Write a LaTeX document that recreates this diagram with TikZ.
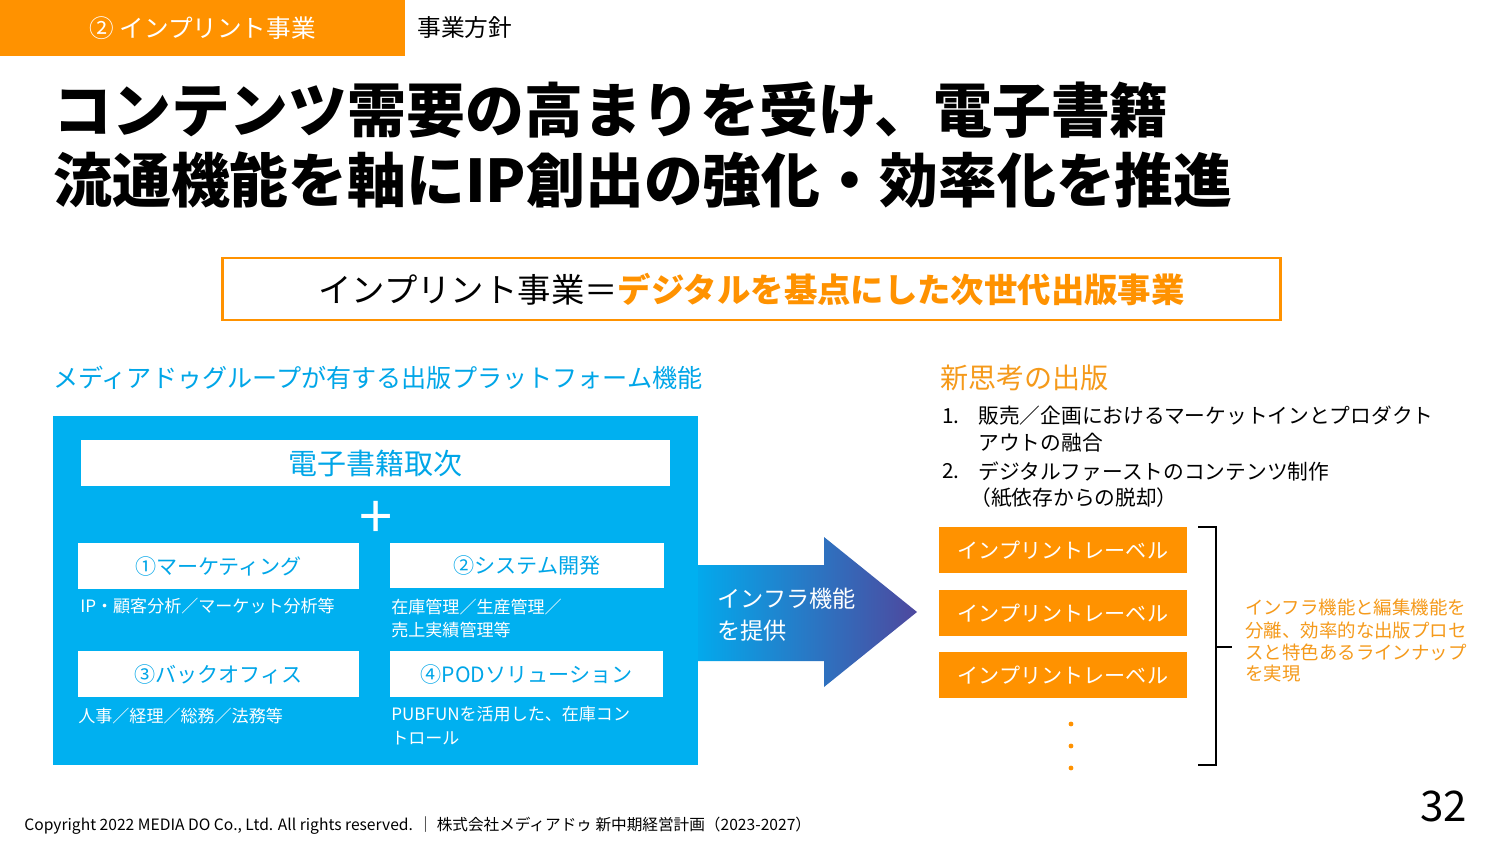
\documentclass[tikz,border=0pt]{standalone}
\usepackage{fontspec}
\setmainfont{Noto Sans CJK JP}
\definecolor{org}{HTML}{FF9200}
\definecolor{orgtxt}{HTML}{F59A1B}
\definecolor{cya}{HTML}{00B0F0}
\definecolor{cyatxt}{HTML}{00A6E8}
\definecolor{arrL}{HTML}{03A9EC}
\definecolor{arrR}{HTML}{4E489E}
\newcommand{\myfs}[1]{\fontsize{#1}{#1}\selectfont}
\begin{document}
\begin{tikzpicture}[x=0.02cm,y=-0.02cm,
  lt/.style={inner sep=0pt, anchor=west},
  ct/.style={inner sep=0pt, anchor=center},
  wbox/.style={fill=white, draw=none, inner sep=0pt, text=cyatxt, font=\myfs{12pt}},
  obox/.style={fill=org, draw=none, inner sep=0pt, text=white, font=\myfs{12pt}, minimum width=4.96cm, minimum height=0.92cm},
  wsmall/.style={lt, text=white, font=\myfs{9.7pt}},
  olist/.style={lt, text=black, font=\myfs{11.8pt}},
  otext/.style={lt, text=orgtxt, font=\myfs{10.5pt}}
]
\useasboundingbox (0,0) rectangle (1500,844);
\fill[white] (0,0) rectangle (1500,844);

% header
\node[fill=org, inner sep=0pt, minimum width=8.1cm, minimum height=1.12cm, text=white, font=\myfs{14pt}] (hdr) at (202.5,28) {② インプリント事業};
\node[lt, font=\myfs{13.5pt}] (sub) at (417,28) {事業方針};

% title
\node[lt, font=\myfs{33.5pt}\bfseries] (t1) at (53,110) {コンテンツ需要の高まりを受け、電子書籍};
\node[lt, font=\myfs{33.5pt}\bfseries] (t2) at (53,180) {流通機能を軸にIP創出の強化・効率化を推進};

% framed statement
\node[draw=org, line width=1.7pt, inner sep=0pt, minimum width=21.18cm, minimum height=1.24cm, font=\myfs{19pt}] (stmt) at (751.5,289)
  {インプリント事業＝{\bfseries\color{org}デジタルを基点にした次世代出版事業}};

% left heading
\node[lt, text=cyatxt, font=\myfs{14.3pt}] (lh) at (53,378) {メディアドゥグループが有する出版プラットフォーム機能};

% big cyan panel
\node[fill=cya, inner sep=0pt, minimum width=12.9cm, minimum height=6.98cm] (panel) at (375.5,590.5) {};

\node[wbox, minimum width=11.78cm, minimum height=0.92cm, font=\myfs{16.5pt}] (dist) at (375.5,463) {電子書籍取次};
\node[ct, text=white, font=\myfs{34pt}] (plus) at (376,520) {+};

\node[wbox, minimum width=5.62cm, minimum height=0.92cm] (b1) at (218.5,566) {①マーケティング};
\node[wbox, minimum width=5.48cm, minimum height=0.9cm] (b2) at (527,565.5) {②システム開発};
\node[wbox, minimum width=5.62cm, minimum height=0.92cm] (b3) at (218.5,674) {③バックオフィス};
\node[wbox, minimum width=5.46cm, minimum height=0.92cm] (b4) at (526.5,674) {④PODソリューション};

\node[wsmall] (d1) at (80,606) {IP・顧客分析／マーケット分析等};
\node[wsmall] (d2a) at (391,607) {在庫管理／生産管理／};
\node[wsmall] (d2b) at (391,630) {売上実績管理等};
\node[wsmall] (d3) at (78,716) {人事／経理／総務／法務等};
\node[wsmall] (d4a) at (391,714) {PUBFUNを活用した、在庫コン};
\node[wsmall] (d4b) at (391,738) {トロール};

% arrow
\shade[left color=arrL, right color=arrR] (698,565) -- (824,565) -- (824,537) -- (917,612) -- (824,687) -- (824,661) -- (698,661) -- cycle;
\node[lt, text=white, font=\myfs{13.2pt}] (ar1) at (717,599) {インフラ機能};
\node[lt, text=white, font=\myfs{13.2pt}] (ar2) at (717,631) {を提供};

% right heading and list
\node[lt, text=orgtxt, font=\myfs{16pt}] (rh) at (940,378) {新思考の出版};
\node[olist] (n1) at (942,416) {1.};
\node[olist] (l1a) at (978,416) {販売／企画におけるマーケットインとプロダクト};
\node[olist] (l1b) at (978,443) {アウトの融合};
\node[olist] (n2) at (942,471) {2.};
\node[olist] (l2a) at (978,471) {デジタルファーストのコンテンツ制作};
\node[olist] (l2b) at (970,498) {（紙依存からの脱却）};

% labels
\node[obox] (lab1) at (1063,550) {インプリントレーベル};
\node[obox] (lab2) at (1063,613) {インプリントレーベル};
\node[obox] (lab3) at (1063,675) {インプリントレーベル};
\foreach \yy in {724,746,768} \fill[org] (1071,\yy) circle (2.4);

% bracket
\draw[line width=1.4pt, line cap=butt] (1198,527) -- (1216,527) -- (1216,765) -- (1198,765);
\draw[line width=1.4pt] (1216,647) -- (1232,647);

\node[otext] (o1) at (1245,607) {インフラ機能と編集機能を};
\node[otext] (o2) at (1245,630) {分離、効率的な出版プロセ};
\node[otext] (o3) at (1245,652) {スと特色あるラインナップ};
\node[otext] (o4) at (1245,674) {を実現};

% footer
\node[lt, font=\myfs{24pt}] (pg) at (1420,806) {32};
\node[lt, font=\myfs{8.9pt}] (foot) at (24,826) {Copyright 2022 MEDIA DO Co., Ltd. All rights reserved. ｜ 株式会社メディアドゥ 新中期経営計画（2023-2027）};
\end{tikzpicture}
\end{document}
